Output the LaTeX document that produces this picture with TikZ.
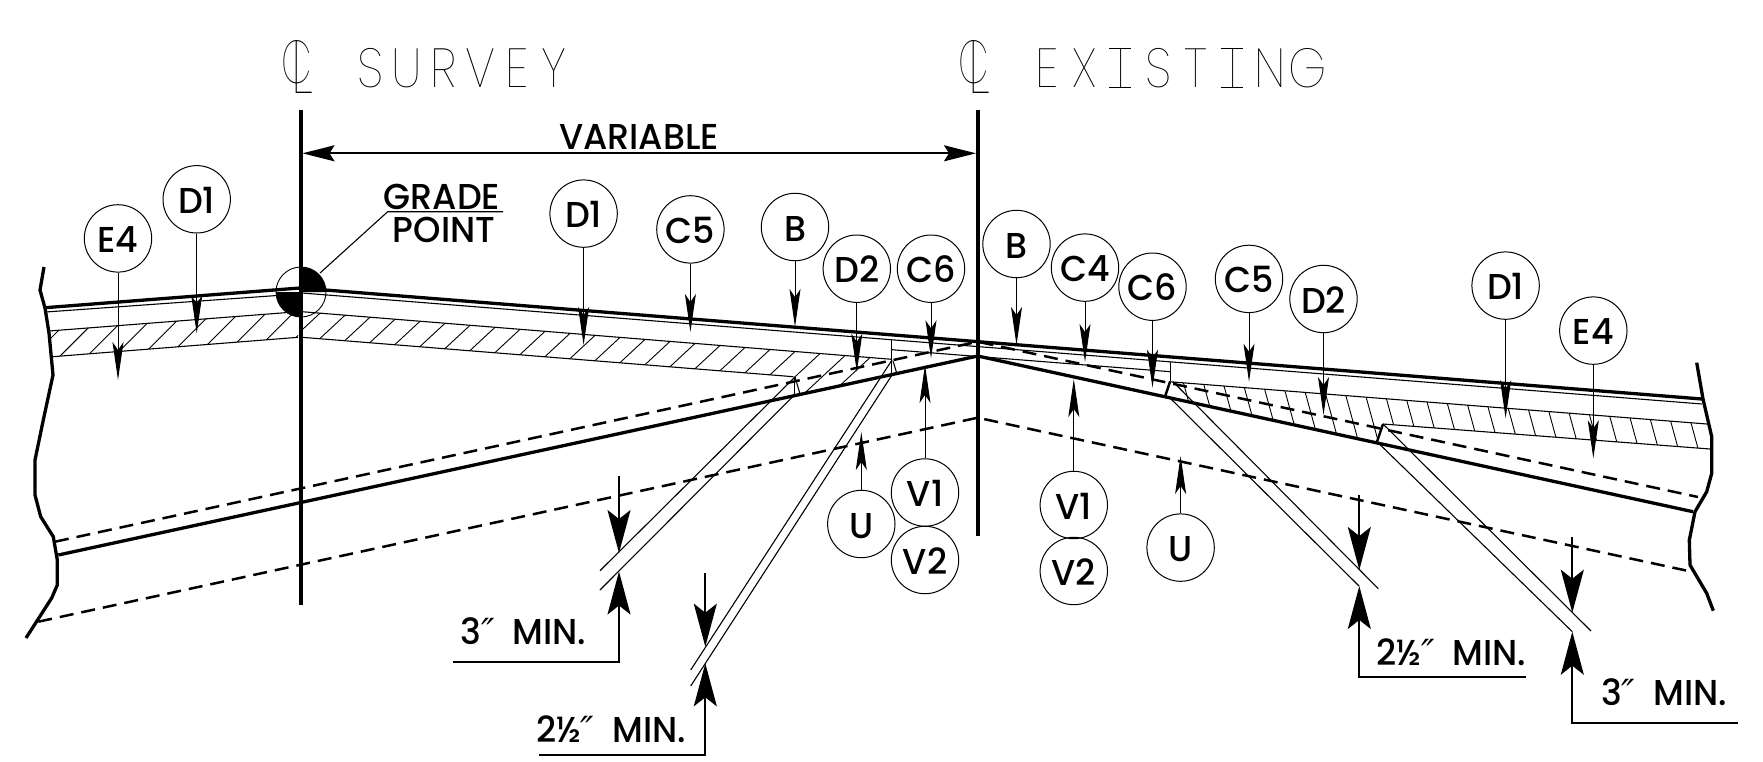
\documentclass[tikz,border=0pt]{standalone}
\usepackage{fontspec}
\usepackage{graphicx}
\usetikzlibrary{arrows.meta}
\newfontfamily\futu{Poppins Medium}[FakeStretch=0.97]
\newfontfamily\thinf{Poppins Thin}
\newfontfamily\cadf{Poppins Thin}[FakeStretch=0.88]
\newcommand{\primes}{{\fontspec{DejaVu Sans}\fontsize{36}{36}\selectfont\textit{″}}}
\newcommand{\cads}[1]{\makebox[36.8pt]{#1}}
\newcommand{\cade}[1]{\makebox[37.3pt]{#1}}
\tikzset{
  bub/.style={circle,draw,line width=1pt,minimum size=67.4pt,inner sep=0pt,text height=28pt,text depth=0pt,font=\futu\fontsize{36}{36}\selectfont},
  lbl/.style={inner sep=0pt,font=\futu\fontsize{36}{36}\selectfont},
  ttl/.style={inner sep=0pt,anchor=base west,font=\cadf\fontsize{55}{55}\selectfont},
  ttlsym/.style={inner sep=0pt,font=\thinf\fontsize{55}{55}\selectfont},
  lead/.style={line width=1pt,-{Stealth[length=38pt,width=11pt,inset=8pt]}},
  dimA/.style={line width=1.8pt,-{Stealth[length=43pt,width=23pt,inset=9pt]}},
  dimB/.style={line width=1.8pt,{Stealth[length=32pt,width=16pt,inset=5pt]}-{Stealth[length=32pt,width=16pt,inset=5pt]}},
  thickl/.style={line width=3.3pt,line join=round},
  cline/.style={line width=3.8pt},
  thinl/.style={line width=1.1pt},
  hatchl/.style={line width=.9pt},
  dashl/.style={line width=2.5pt,dash pattern=on 14pt off 8pt},
  serif/.style={line width=.9pt},
}
\begin{document}
\begin{tikzpicture}[x=1pt,y=-1pt]
\useasboundingbox (0,0) rectangle (1763,761);
% titles
\node[ttlsym] (csa) at (296.7,62) {\scalebox{.72}[1.1]{C}};
\node[ttlsym,anchor=base west] (csb) at (291,93.3) {\scalebox{1.0}[1.37]{L}};
\node[ttl] (tsurvey) at (351.6,87) {\cads{S}\cads{U}\cads{R}\cads{V}\cads{E}\cads{Y}};
\node[ttlsym] (cea) at (973.3,62) {\scalebox{.72}[1.1]{C}};
\node[ttlsym,anchor=base west] (ceb) at (968,93.3) {\scalebox{1.0}[1.37]{L}};
\node[ttl] (texisting) at (1028,87) {\cade{E}\cade{X}\cade{I}\cade{S}\cade{T}\cade{I}\cade{N}\cade{G}};
\foreach \xc in {1120,1231.7}{
  \draw[serif] (\xc-11,48.5) -- (\xc+11,48.5);
  \draw[serif] (\xc-11,87) -- (\xc+11,87);
}
% centre lines
\coordinate (cl1t) at (300.7,110); \coordinate (cl1b) at (300.7,605);
\coordinate (cl2t) at (977.7,110); \coordinate (cl2b) at (977.7,536);
\draw[cline] (cl1t) -- (cl1b);
\draw[cline] (cl2t) -- (cl2b);
\coordinate (vl) at (302.5,153.3); \coordinate (vr) at (976,153.3);
\draw[dimB] (vl) -- (vr);
\node[lbl] (variable) at (639,136.5) {VARIABLE};
% break lines
\draw[thickl] (44,267) -- (40,290) -- (45,308) -- (49,333) -- (53,375) -- (43.3,420) -- (35,460) -- (35,495) -- (40.7,516.7) -- (53.3,536.7) -- (57.3,560) -- (57.3,585) -- (51.7,598) -- (26,638);
\draw[thickl] (1696.7,362.7) -- (1703,399) -- (1711.7,436.7) -- (1711.7,473.3) -- (1706.7,491.7) -- (1695,511.7) -- (1689.3,540) -- (1690,565) -- (1706.7,593.3) -- (1713.3,610.7);
% surface
\draw[thickl] (45,307.7) -- (300,288) -- (1702,399);
\draw[thinl] (45.7,312) -- (298,294);
\draw[thinl] (302,293) -- (1702,404);
% layer lines, left
\draw[thinl] (49,331) -- (298,311.7);
\draw[thinl] (52.7,356.7) -- (298,337.3);
\draw[thinl] (302,311.7) -- (891.7,359.3);
\draw[thinl] (302,337.3) -- (793.3,376.7);
\draw[thinl] (891.7,339.8) -- (891.7,374.7);
\draw[thinl] (891.7,349.7) -- (1170.7,371.7);
\draw[thinl] (1170.7,361.7) -- (1170.7,380.5);
\draw[thinl] (1169,381.7) -- (1707,424);
\draw[thinl] (1383,424) -- (1710,449);
% notches
\draw[thinl] (794.3,377) -- (794.3,395);
\draw[thinl] (795,377) -- (800,394);
\draw[thinl] (893,361) -- (897,374);
\draw[line width=2.4pt] (1165,396.7) -- (1170,381.7);
\draw[line width=2.4pt] (1377,441.7) -- (1383,424);
% subgrade
\draw[thickl] (58.3,555) -- (977.7,356) -- (1693,511.7);
\draw[dashl] (55,541.7) -- (977.7,341.7) -- (1698,497);
\draw[dashl] (38.3,621.7) -- (977.7,417.7) -- (1691.7,571.7);
% double lines
\draw[thinl] (795,377) -- (600,570.7);
\draw[thinl] (794.3,395) -- (600,590);
\draw[thinl] (892,360) -- (690.7,670);
\draw[thinl] (892,375) -- (690.7,686);
\draw[thinl] (1173,381.7) -- (1378.3,588.7);
\draw[thinl] (1170,398) -- (1359,586);
\draw[thinl] (1383,424) -- (1591,631);
\draw[thinl] (1377,441.7) -- (1572.3,631.7);
% hatches
\begin{scope}
\clip (49,331) -- (298,311.7) -- (298,337.3) -- (52.7,356.7) -- cycle;
\foreach \k in {-1,...,8}{
  \pgfmathsetmacro{\xb}{60+29.5*\k}
  \pgfmathsetmacro{\yb}{356.7-.079*(\xb-52.7)}
  \draw[hatchl] (\xb-10,\yb+10) -- (\xb+40,\yb-40);
}
\end{scope}
\begin{scope}
\clip (302,311.7) -- (891.7,359.3) -- (891.7,374.7) -- (800,394) -- (793.3,376.7) -- (302,337.3) -- cycle;
\foreach \k in {-1,...,21}{
  \pgfmathsetmacro{\xt}{345+25*\k}
  \pgfmathsetmacro{\yt}{311.7+.0807*(\xt-302)}
  \draw[hatchl] (\xt+5,\yt-4.6) -- (\xt-50,\yt+46.5);
}
\end{scope}
\begin{scope}
\clip (1169,381.7) -- (1707,424) -- (1710,449) -- (1383,424) -- (1377,441.7) -- (1165,396.7) -- cycle;
\foreach \k in {0,...,25}{
  \pgfmathsetmacro{\xt}{1183.3+20.3*\k}
  \pgfmathsetmacro{\yt}{381.7+.0786*(\xt-1173)}
  \draw[hatchl] (\xt-2.7,\yt-10) -- (\xt+22,\yt+80);
}
\end{scope}
% grade point
\coordinate (gpc) at (301,292);
\draw[line width=.9pt] (gpc) circle (25);
\fill (gpc) -- (326,292) arc[start angle=0,end angle=-90,radius=25] -- cycle;
\fill (gpc) -- (276,292) arc[start angle=180,end angle=90,radius=25] -- cycle;
\node[lbl] (grade) at (442,197) {GRADE};
\node[lbl] (gpoint) at (444,230) {POINT};
\coordinate (g1) at (320,273); \coordinate (g2) at (387.7,211.7); \coordinate (g3) at (503,211.7);
\draw[thinl] (g1) -- (g2) -- (g3);
% bubbles
\node[bub] (e4a) at (118,238.4) {E4};
\node[bub] (d1a) at (196.7,199.3) {D1};
\node[bub] (d1b) at (583.6,213.6) {D1};
\node[bub] (c5a) at (690.4,229.4) {C5};
\node[bub] (ba) at (795,227) {B};
\node[bub] (d2a) at (856.8,268.7) {D2};
\node[bub] (c6a) at (931,268.7) {C6};
\node[bub] (bb) at (1016.5,244) {B};
\node[bub] (c4a) at (1085,267.6) {C4};
\node[bub] (c6b) at (1152.5,286.7) {C6};
\node[bub] (c5b) at (1249,278.9) {C5};
\node[bub] (d2b) at (1323.5,299) {D2};
\node[bub] (d1c) at (1505.6,285.6) {D1};
\node[bub] (e4b) at (1593.3,330.6) {E4};
\node[bub] (ua) at (861.3,524) {U};
\node[bub] (v1a) at (925,492.5) {V1};
\node[bub] (v2a) at (925,560) {V2};
\node[bub] (v1b) at (1073.8,505) {V1};
\node[bub] (v2b) at (1073.8,571) {V2};
\node[bub] (ub) at (1180.6,547.6) {U};
% leaders
\foreach \n/\x/\y in {e4a/118/380,d1a/196.7/333.3,d1b/583.6/345,c5a/690.4/332,ba/795/327,d2a/856.8/371.7,c6a/931/358.3,bb/1016.5/345,c4a/1085/362,c6b/1152.5/387.7,c5b/1249/381.7,d2b/1323.5/415,d1c/1505.6/418.3,e4b/1593.3/458.3}{
  \coordinate (\n tip) at (\x,\y);
  \draw[lead] (\n.south) -- (\n tip);
}
\foreach \n/\x/\y in {ua/861.3/432,v1a/925/365,v1b/1073.8/379,ub/1180.6/456}{
  \coordinate (\n tip) at (\x,\y);
  \draw[lead] (\n.north) -- (\n tip);
}
% dimensions
\coordinate (a1s) at (619,476); \coordinate (a1t) at (619,553);
\coordinate (a1u) at (619,571.5); \coordinate (a1c) at (619,661.7); \coordinate (a1e) at (453,661.7);
\draw[dimA] (a1s) -- (a1t);
\draw[dimA] (a1e) -- (a1c) -- (a1u);
\node[lbl] (t1) at (523.5,631) {3\primes\hspace{18pt}MIN.};
\coordinate (a2s) at (705.3,573.3); \coordinate (a2t) at (705.3,646.7);
\coordinate (a2u) at (705.3,663.3); \coordinate (a2c) at (705.3,755); \coordinate (a2e) at (539.3,755);
\draw[dimA] (a2s) -- (a2t);
\draw[dimA] (a2e) -- (a2c) -- (a2u);
\node[lbl] (t2) at (611,729) {2½\primes\hspace{18pt}MIN.};
\coordinate (a3s) at (1359.3,495); \coordinate (a3t) at (1359.3,570);
\coordinate (a3u) at (1359.3,586); \coordinate (a3c) at (1359.3,676.7); \coordinate (a3e) at (1525.7,676.7);
\draw[dimA] (a3s) -- (a3t);
\draw[dimA] (a3e) -- (a3c) -- (a3u);
\node[lbl] (t3) at (1451.5,652) {2½\primes\hspace{18pt}MIN.};
\coordinate (a4s) at (1572.3,537.3); \coordinate (a4t) at (1572.3,612.7);
\coordinate (a4u) at (1572.3,631.7); \coordinate (a4c) at (1572.3,723.3); \coordinate (a4e) at (1738.3,723.3);
\draw[dimA] (a4s) -- (a4t);
\draw[dimA] (a4e) -- (a4c) -- (a4u);
\node[lbl] (t4) at (1664,692.5) {3\primes\hspace{18pt}MIN.};
\end{tikzpicture}
\end{document}
